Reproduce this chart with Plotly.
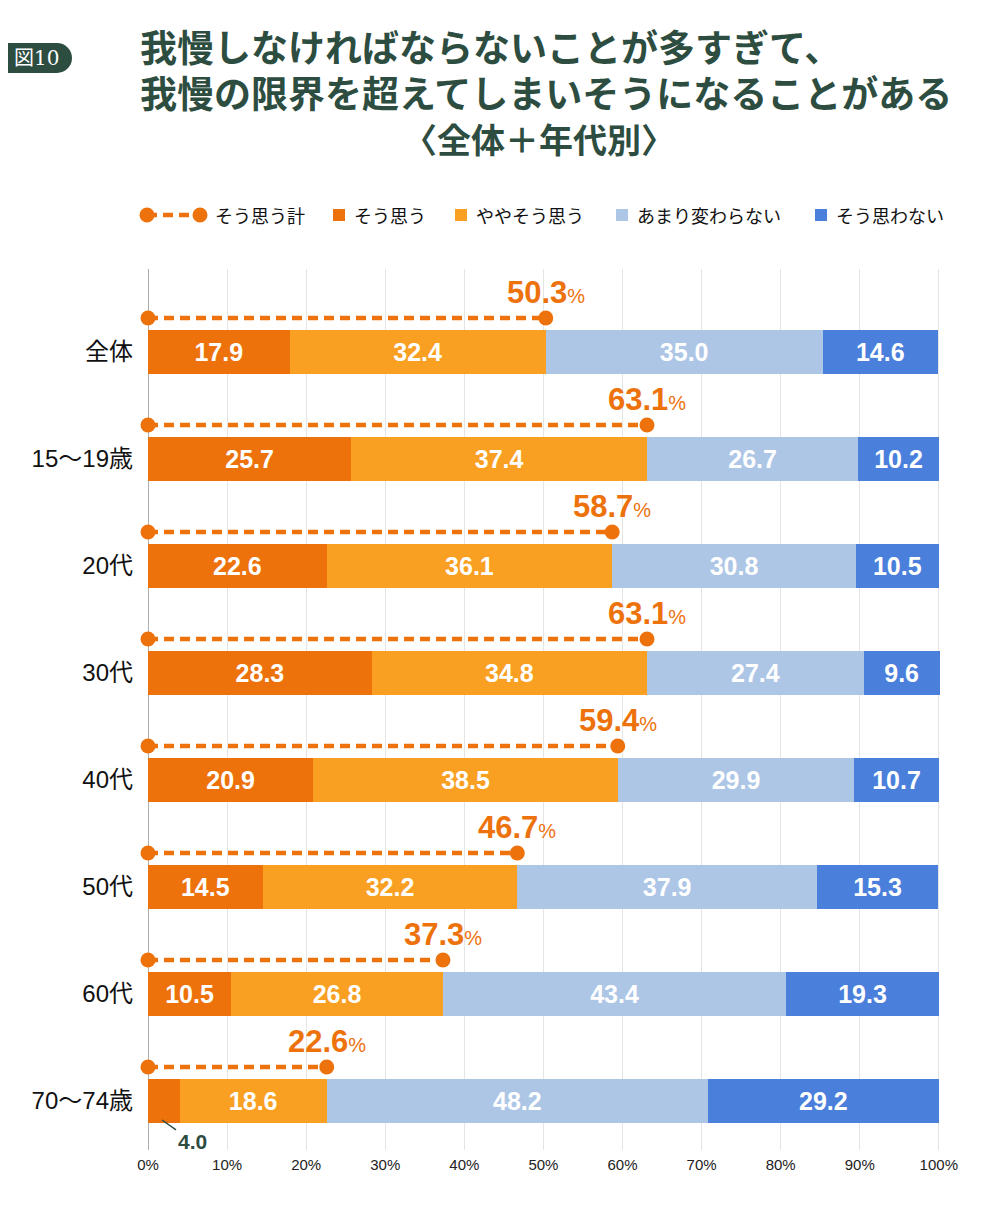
import plotly.graph_objects as go

categories = ["全体", "15～19歳", "20代", "30代", "40代", "50代", "60代", "70～74歳"]
agree = [17.9, 25.7, 22.6, 28.3, 20.9, 14.5, 10.5, 4.0]
somewhat = [32.4, 37.4, 36.1, 34.8, 38.5, 32.2, 26.8, 18.6]
unchanged = [35.0, 26.7, 30.8, 27.4, 29.9, 37.9, 43.4, 48.2]
disagree = [14.6, 10.2, 10.5, 9.6, 10.7, 15.3, 19.3, 29.2]
totals = [50.3, 63.1, 58.7, 63.1, 59.4, 46.7, 37.3, 22.6]
x_ticks = [0, 10, 20, 30, 40, 50, 60, 70, 80, 90, 100]
x_tick_text = [f"{v}%" for v in x_ticks]
series_names = ["そう思う", "ややそう思う", "あまり変わらない", "そう思わない"]
total_name = "そう思う計"
title_lines = ["我慢しなければならないことが多すぎて、",
               "我慢の限界を超えてしまいそうになることがある",
               "〈全体＋年代別〉"]

colors = ["#ED720C", "#F9A023", "#ADC6E6", "#4A7FDC"]
GREEN = "#2E4D41"
JP = "Noto Sans CJK JP"
NUM = "Liberation Sans, Arial, Noto Sans CJK JP"

# page has an 8px body margin; work in page pixels and convert
OX, OY = 8, 8
W, H = 992, 1194
PL, PT, PR, PB = 148, 269, 940, 1150  # plot area in page pixels
ML, MT = PL - OX, PT - OY
MR, MB = W - (PR - OX), H - (PB - OY)
PW, PH = PR - PL, PB - PT
XMAX = 100.15


def px(x):
    return (x - PL) / PW


def py(y):
    return (PB - y) / PH


ypos = list(range(len(categories)))
fig = go.Figure()

for name, vals, col in zip(series_names, [agree, somewhat, unchanged, disagree], colors):
    texts = [("" if v < 5 else f"{v:.1f}") for v in vals]
    fig.add_trace(go.Bar(
        y=ypos, x=vals, orientation="h", name=name, width=0.41,
        marker=dict(color=col, line=dict(width=0)),
        text=texts, textposition="inside", insidetextanchor="middle",
        textangle=0, constraintext="none", cliponaxis=False,
        textfont=dict(family=NUM, size=25, color="white", weight="bold"),
        showlegend=False,
    ))

# total dashed lines
LOFF = -0.318
lx, ly = [], []
for i, t in enumerate(totals):
    lx += [0, t, None]
    ly += [i + LOFF, i + LOFF, None]
fig.add_trace(go.Scatter(
    x=lx, y=ly, mode="lines+markers", name=total_name,
    line=dict(color="#ED720C", width=4.5, dash="10px,6px"),
    marker=dict(color="#ED720C", size=15, symbol="circle"),
    showlegend=False, cliponaxis=False,
))

annotations = []
for i, t in enumerate(totals):
    annotations.append(dict(
        x=t, y=i - 0.56, xref="x", yref="y", showarrow=False,
        text=f"<b>{t:.1f}</b><span style='font-size:20px'>%</span>",
        font=dict(family=NUM, size=31, color="#ED720C"),
        xanchor="center", yanchor="middle",
    ))

# 4.0 callout
annotations.append(dict(
    x=(162 - PL) / PW * XMAX, y=7 + (1120 - 1101) / 107, xref="x", yref="y",
    text="<b>4.0</b>", showarrow=True, arrowhead=0, arrowwidth=1.5,
    arrowcolor=GREEN, ax=30, ay=21,
    font=dict(family=NUM, size=21, color=GREEN),
))

# title: lines 1-2 left aligned, line 3 indented with ideographic spaces to sit centred
indent = "\u3000" * 7
title_text = (f"<span style='font-size:37px'><b>{title_lines[0]}</b></span><br>"
              f"<span style='font-size:37px'><b>{title_lines[1]}</b></span><br>"
              f"<span style='font-size:40px'>{indent}</span>"
              f"<span style='font-size:34px'><b>{title_lines[2]}</b></span>")
annotations += [
    dict(x=px(138), y=py(92), xref="paper", yref="paper", showarrow=False,
         text=title_text, xanchor="left", yanchor="middle", align="left",
         font=dict(family=JP, size=35, color=GREEN)),
    dict(x=px(36), y=py(58), xref="paper", yref="paper", showarrow=False,
         text="図10", xanchor="center", yanchor="middle",
         font=dict(family="DejaVu Serif, Liberation Serif, Noto Sans CJK JP", size=20, color="white")),
]

shapes = [
    dict(type="rect", xref="paper", yref="paper", x0=px(0), x1=px(57), y0=py(73), y1=py(43),
         fillcolor=GREEN, line=dict(width=0), layer="above"),
    dict(type="circle", xref="paper", yref="paper", x0=px(42), x1=px(72), y0=py(73), y1=py(43),
         fillcolor=GREEN, line=dict(width=0), layer="above"),
]

# legend (manual)
LY = 215
shapes.append(dict(type="line", xref="paper", yref="paper", x0=px(147), x1=px(200), y0=py(LY), y1=py(LY),
                   line=dict(color="#ED720C", width=4.5, dash="10px,6px")))
for cx in (147, 200):
    shapes.append(dict(type="circle", xref="paper", yref="paper", x0=px(cx - 7.5), x1=px(cx + 7.5),
                       y0=py(LY + 7.5), y1=py(LY - 7.5), fillcolor="#ED720C", line=dict(width=0)))
annotations.append(dict(x=px(213), y=py(LY), xref="paper", yref="paper", showarrow=False,
                        text=total_name, xanchor="left", yanchor="middle",
                        font=dict(family=JP, size=18, color="#111")))
leg_sq = [339, 461, 622, 821]
for name, col, cx in zip(series_names, colors, leg_sq):
    shapes.append(dict(type="rect", xref="paper", yref="paper", x0=px(cx - 6), x1=px(cx + 6),
                       y0=py(LY + 6), y1=py(LY - 6), fillcolor=col, line=dict(width=0)))
    annotations.append(dict(x=px(cx + 13), y=py(LY), xref="paper", yref="paper", showarrow=False,
                            text=name, xanchor="left", yanchor="middle",
                            font=dict(family=JP, size=18, color="#111")))

fig.update_layout(
    width=W, height=H, barmode="stack",
    margin=dict(l=ML, r=MR, t=MT, b=MB, pad=0, autoexpand=False),
    plot_bgcolor="white", paper_bgcolor="white",
    annotations=annotations, shapes=shapes,
    showlegend=False,
    xaxis=dict(range=[0, XMAX], tickvals=x_ticks, ticktext=x_tick_text,
               showgrid=True, gridcolor="#E4E4E4", gridwidth=1,
               zeroline=False, showline=False, automargin=False,
               tickfont=dict(family=NUM, size=15, color="#222"),
               ticks="", ticklabelstandoff=4),
    yaxis=dict(range=[7.458, -0.776], tickvals=ypos, ticktext=categories,
               showgrid=False, zeroline=False, showline=False, automargin=False,
               tickfont=dict(family=NUM, size=24, color="#111"),
               ticks="", ticklabelstandoff=14),
)
fig.add_shape(type="line", xref="x", yref="paper", x0=0, x1=0, y0=0, y1=1,
              line=dict(color="#AFAFAF", width=2), layer="below")

fig.write_html("out.html")
